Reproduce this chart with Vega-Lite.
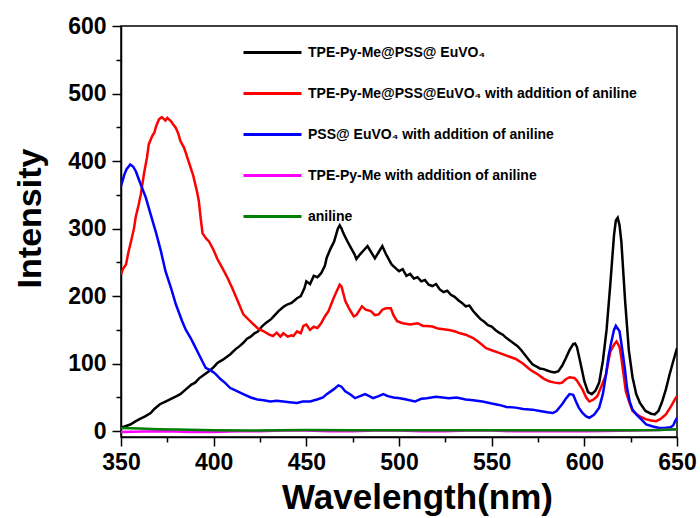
{
  "$schema": "https://vega.github.io/schema/vega-lite/v6.json",
  "width": 556,
  "height": 411,
  "autosize": {"type": "none"},
  "padding": {"left": 121, "top": 26, "right": 23, "bottom": 81},
  "background": "white",
  "config": {
    "view": {"stroke": "black", "strokeWidth": 1.5},
    "font": "Liberation Sans",
    "axis": {
      "labelFont": "Liberation Sans", "labelFontWeight": "bold", "labelFontSize": 23, "labelColor": "black",
      "titleFont": "Liberation Sans", "titleFontWeight": "bold", "titleColor": "black",
      "domainColor": "black", "domainWidth": 1.5, "tickColor": "black", "tickWidth": 1.5, "tickSize": 9,
      "grid": false
    },
    "legend": {
      "labelFont": "Liberation Sans", "labelFontWeight": "bold", "labelFontSize": 14, "labelColor": "black"
    }
  },
  "datasets": {
    "spectra": [
      {"k":"A","x":350,"y":6},{"k":"A","x":352,"y":7},{"k":"A","x":355,"y":10},{"k":"A","x":358,"y":15},{"k":"A","x":360,"y":18},{"k":"A","x":363,"y":22},{"k":"A","x":366,"y":27},{"k":"A","x":368,"y":33},{"k":"A","x":371,"y":40},{"k":"A","x":374,"y":44},{"k":"A","x":377,"y":48},{"k":"A","x":380,"y":52},{"k":"A","x":382,"y":55},{"k":"A","x":385,"y":62},{"k":"A","x":388,"y":69},{"k":"A","x":390,"y":72},{"k":"A","x":392,"y":78},{"k":"A","x":395,"y":84},{"k":"A","x":398,"y":90},{"k":"A","x":400,"y":95},{"k":"A","x":402,"y":101},{"k":"A","x":405,"y":106},{"k":"A","x":407,"y":110},{"k":"A","x":409,"y":114},{"k":"A","x":412,"y":122},{"k":"A","x":414,"y":126},{"k":"A","x":416,"y":131},{"k":"A","x":418,"y":137},{"k":"A","x":420,"y":140},{"k":"A","x":422,"y":145},{"k":"A","x":424,"y":148},{"k":"A","x":426,"y":155},{"k":"A","x":428,"y":160},{"k":"A","x":431,"y":166},{"k":"A","x":433,"y":172},{"k":"A","x":435,"y":178},{"k":"A","x":438,"y":185},{"k":"A","x":440,"y":188},{"k":"A","x":442,"y":190},{"k":"A","x":445,"y":197},{"k":"A","x":447,"y":200},{"k":"A","x":449,"y":212},{"k":"A","x":450,"y":222},{"k":"A","x":452,"y":218},{"k":"A","x":454,"y":230},{"k":"A","x":456,"y":228},{"k":"A","x":458,"y":234},{"k":"A","x":460,"y":245},{"k":"A","x":461,"y":257},{"k":"A","x":463,"y":270},{"k":"A","x":465,"y":281},{"k":"A","x":467,"y":300},{"k":"A","x":468,"y":305},{"k":"A","x":469,"y":300},{"k":"A","x":470,"y":293},{"k":"A","x":472,"y":282},{"k":"A","x":474,"y":272},{"k":"A","x":476,"y":262},{"k":"A","x":477,"y":255},{"k":"A","x":479,"y":262},{"k":"A","x":481,"y":268},{"k":"A","x":483,"y":274},{"k":"A","x":485,"y":265},{"k":"A","x":487,"y":256},{"k":"A","x":489,"y":265},{"k":"A","x":491,"y":274},{"k":"A","x":493,"y":262},{"k":"A","x":496,"y":247},{"k":"A","x":498,"y":242},{"k":"A","x":500,"y":237},{"k":"A","x":502,"y":240},{"k":"A","x":504,"y":230},{"k":"A","x":506,"y":233},{"k":"A","x":508,"y":226},{"k":"A","x":510,"y":228},{"k":"A","x":512,"y":222},{"k":"A","x":514,"y":224},{"k":"A","x":516,"y":217},{"k":"A","x":518,"y":215},{"k":"A","x":520,"y":218},{"k":"A","x":522,"y":210},{"k":"A","x":524,"y":206},{"k":"A","x":526,"y":208},{"k":"A","x":528,"y":202},{"k":"A","x":530,"y":199},{"k":"A","x":532,"y":194},{"k":"A","x":534,"y":190},{"k":"A","x":536,"y":185},{"k":"A","x":538,"y":186},{"k":"A","x":540,"y":178},{"k":"A","x":542,"y":172},{"k":"A","x":544,"y":166},{"k":"A","x":546,"y":162},{"k":"A","x":548,"y":157},{"k":"A","x":550,"y":155},{"k":"A","x":552,"y":150},{"k":"A","x":554,"y":146},{"k":"A","x":556,"y":143},{"k":"A","x":558,"y":138},{"k":"A","x":560,"y":134},{"k":"A","x":562,"y":130},{"k":"A","x":564,"y":126},{"k":"A","x":566,"y":120},{"k":"A","x":568,"y":113},{"k":"A","x":570,"y":106},{"k":"A","x":572,"y":99},{"k":"A","x":574,"y":96},{"k":"A","x":576,"y":93},{"k":"A","x":578,"y":92},{"k":"A","x":580,"y":90},{"k":"A","x":582,"y":88},{"k":"A","x":584,"y":87},{"k":"A","x":586,"y":89},{"k":"A","x":588,"y":97},{"k":"A","x":590,"y":108},{"k":"A","x":592,"y":120},{"k":"A","x":594,"y":129},{"k":"A","x":595,"y":130},{"k":"A","x":596,"y":125},{"k":"A","x":598,"y":100},{"k":"A","x":600,"y":74},{"k":"A","x":602,"y":58},{"k":"A","x":604,"y":55},{"k":"A","x":606,"y":60},{"k":"A","x":608,"y":72},{"k":"A","x":610,"y":104},{"k":"A","x":612,"y":150},{"k":"A","x":614,"y":217},{"k":"A","x":616,"y":290},{"k":"A","x":617,"y":312},{"k":"A","x":618,"y":316},{"k":"A","x":619,"y":305},{"k":"A","x":620,"y":280},{"k":"A","x":622,"y":193},{"k":"A","x":624,"y":120},{"k":"A","x":626,"y":80},{"k":"A","x":628,"y":55},{"k":"A","x":630,"y":42},{"k":"A","x":633,"y":30},{"k":"A","x":636,"y":26},{"k":"A","x":638,"y":25},{"k":"A","x":640,"y":30},{"k":"A","x":642,"y":44},{"k":"A","x":644,"y":62},{"k":"A","x":646,"y":84},{"k":"A","x":648,"y":104},{"k":"A","x":650,"y":123},

      {"k":"B","x":350,"y":232},{"k":"B","x":351,"y":240},{"k":"B","x":352.7,"y":247},{"k":"B","x":354,"y":265},{"k":"B","x":355.4,"y":281},{"k":"B","x":357,"y":300},{"k":"B","x":358,"y":318},{"k":"B","x":359.5,"y":335},{"k":"B","x":360.7,"y":351},{"k":"B","x":362.5,"y":383},{"k":"B","x":364,"y":405},{"k":"B","x":365,"y":425},{"k":"B","x":367,"y":438},{"k":"B","x":368,"y":442},{"k":"B","x":369,"y":452},{"k":"B","x":370.5,"y":462},{"k":"B","x":372,"y":465},{"k":"B","x":374,"y":460},{"k":"B","x":375,"y":464},{"k":"B","x":377,"y":459},{"k":"B","x":378,"y":455},{"k":"B","x":379.6,"y":449},{"k":"B","x":381,"y":440},{"k":"B","x":382,"y":430},{"k":"B","x":384,"y":420},{"k":"B","x":385,"y":412},{"k":"B","x":387,"y":395},{"k":"B","x":389,"y":378},{"k":"B","x":391,"y":355},{"k":"B","x":392,"y":341},{"k":"B","x":393,"y":315},{"k":"B","x":394,"y":293},{"k":"B","x":396,"y":285},{"k":"B","x":397.5,"y":281},{"k":"B","x":400,"y":268},{"k":"B","x":402,"y":255},{"k":"B","x":405,"y":240},{"k":"B","x":407.5,"y":227},{"k":"B","x":410,"y":212},{"k":"B","x":413,"y":193},{"k":"B","x":416,"y":173},{"k":"B","x":419,"y":165},{"k":"B","x":421.6,"y":158},{"k":"B","x":424,"y":152},{"k":"B","x":427,"y":148},{"k":"B","x":430,"y":143},{"k":"B","x":432,"y":141},{"k":"B","x":434,"y":146},{"k":"B","x":436,"y":140},{"k":"B","x":437.6,"y":145},{"k":"B","x":440,"y":140},{"k":"B","x":442,"y":142},{"k":"B","x":443,"y":141},{"k":"B","x":445,"y":148},{"k":"B","x":447,"y":145},{"k":"B","x":448.4,"y":156},{"k":"B","x":450,"y":158},{"k":"B","x":452,"y":150},{"k":"B","x":454,"y":155},{"k":"B","x":456,"y":153},{"k":"B","x":458,"y":160},{"k":"B","x":460,"y":170},{"k":"B","x":462,"y":178},{"k":"B","x":464.7,"y":197},{"k":"B","x":466,"y":205},{"k":"B","x":468,"y":217},{"k":"B","x":469,"y":214},{"k":"B","x":471,"y":193},{"k":"B","x":473,"y":182},{"k":"B","x":475.6,"y":170},{"k":"B","x":477,"y":172},{"k":"B","x":480,"y":185},{"k":"B","x":482,"y":180},{"k":"B","x":484.8,"y":178},{"k":"B","x":487,"y":172},{"k":"B","x":489,"y":173},{"k":"B","x":491,"y":180},{"k":"B","x":493,"y":182},{"k":"B","x":495.6,"y":182},{"k":"B","x":497,"y":172},{"k":"B","x":499,"y":163},{"k":"B","x":502,"y":160},{"k":"B","x":506,"y":158},{"k":"B","x":510,"y":160},{"k":"B","x":513,"y":156},{"k":"B","x":515,"y":156},{"k":"B","x":518,"y":155},{"k":"B","x":521,"y":152},{"k":"B","x":524,"y":151},{"k":"B","x":527,"y":150},{"k":"B","x":530,"y":148},{"k":"B","x":533,"y":145},{"k":"B","x":536,"y":143},{"k":"B","x":540,"y":138},{"k":"B","x":543,"y":132},{"k":"B","x":547,"y":123},{"k":"B","x":550,"y":120},{"k":"B","x":554,"y":116},{"k":"B","x":558,"y":112},{"k":"B","x":563,"y":107},{"k":"B","x":567,"y":100},{"k":"B","x":570,"y":93},{"k":"B","x":572,"y":89},{"k":"B","x":575,"y":84},{"k":"B","x":578,"y":78},{"k":"B","x":581,"y":74},{"k":"B","x":584,"y":72},{"k":"B","x":586.6,"y":71},{"k":"B","x":588,"y":72},{"k":"B","x":590,"y":77},{"k":"B","x":592,"y":80},{"k":"B","x":594.6,"y":79},{"k":"B","x":596,"y":75},{"k":"B","x":599,"y":62},{"k":"B","x":601,"y":50},{"k":"B","x":602.7,"y":44},{"k":"B","x":605,"y":47},{"k":"B","x":607,"y":52},{"k":"B","x":609,"y":65},{"k":"B","x":611.7,"y":84},{"k":"B","x":614,"y":118},{"k":"B","x":616,"y":128},{"k":"B","x":617.4,"y":133},{"k":"B","x":619,"y":125},{"k":"B","x":620,"y":108},{"k":"B","x":622.4,"y":59},{"k":"B","x":624,"y":45},{"k":"B","x":626,"y":30},{"k":"B","x":630,"y":22},{"k":"B","x":633,"y":18},{"k":"B","x":636,"y":16},{"k":"B","x":638.7,"y":15},{"k":"B","x":641,"y":18},{"k":"B","x":644,"y":25},{"k":"B","x":647,"y":38},{"k":"B","x":649,"y":48},{"k":"B","x":650,"y":52},

      {"k":"C","x":350,"y":363},{"k":"C","x":351.8,"y":380},{"k":"C","x":353,"y":388},{"k":"C","x":355,"y":395},{"k":"C","x":356.5,"y":392},{"k":"C","x":358,"y":385},{"k":"C","x":360.7,"y":365},{"k":"C","x":363.4,"y":346},{"k":"C","x":366,"y":321},{"k":"C","x":369,"y":293},{"k":"C","x":371.5,"y":267},{"k":"C","x":374,"y":237},{"k":"C","x":377,"y":212},{"k":"C","x":379.6,"y":188},{"k":"C","x":383,"y":163},{"k":"C","x":385,"y":150},{"k":"C","x":387.6,"y":138},{"k":"C","x":390,"y":125},{"k":"C","x":392,"y":114},{"k":"C","x":394,"y":103},{"k":"C","x":395.7,"y":94},{"k":"C","x":397,"y":92},{"k":"C","x":399,"y":89},{"k":"C","x":401,"y":85},{"k":"C","x":403.8,"y":77},{"k":"C","x":406,"y":72},{"k":"C","x":409,"y":64},{"k":"C","x":412,"y":60},{"k":"C","x":416,"y":55},{"k":"C","x":420,"y":50},{"k":"C","x":423.6,"y":47},{"k":"C","x":427,"y":46},{"k":"C","x":430.6,"y":44},{"k":"C","x":434,"y":45},{"k":"C","x":437.6,"y":44},{"k":"C","x":441,"y":43},{"k":"C","x":445,"y":42},{"k":"C","x":448,"y":44},{"k":"C","x":452,"y":44},{"k":"C","x":455.8,"y":47},{"k":"C","x":459,"y":50},{"k":"C","x":461,"y":55},{"k":"C","x":464.7,"y":62},{"k":"C","x":467.3,"y":68},{"k":"C","x":469,"y":66},{"k":"C","x":471,"y":59},{"k":"C","x":474,"y":54},{"k":"C","x":476.3,"y":49},{"k":"C","x":479,"y":52},{"k":"C","x":481.7,"y":55},{"k":"C","x":484,"y":52},{"k":"C","x":486,"y":49},{"k":"C","x":489,"y":52},{"k":"C","x":491.5,"y":55},{"k":"C","x":494,"y":52},{"k":"C","x":497,"y":50},{"k":"C","x":500.5,"y":49},{"k":"C","x":504,"y":47},{"k":"C","x":508.6,"y":44},{"k":"C","x":512,"y":48},{"k":"C","x":515,"y":49},{"k":"C","x":520,"y":51},{"k":"C","x":527,"y":49},{"k":"C","x":531,"y":50},{"k":"C","x":536,"y":47},{"k":"C","x":540,"y":46},{"k":"C","x":545,"y":44},{"k":"C","x":550,"y":41},{"k":"C","x":554,"y":39},{"k":"C","x":558,"y":36},{"k":"C","x":563,"y":35},{"k":"C","x":567,"y":33},{"k":"C","x":572,"y":32},{"k":"C","x":576,"y":30},{"k":"C","x":580,"y":28},{"k":"C","x":583,"y":27},{"k":"C","x":585,"y":30},{"k":"C","x":588,"y":40},{"k":"C","x":590,"y":48},{"k":"C","x":592,"y":55},{"k":"C","x":594,"y":54},{"k":"C","x":595.5,"y":44},{"k":"C","x":597,"y":35},{"k":"C","x":599,"y":27},{"k":"C","x":601,"y":22},{"k":"C","x":602.7,"y":20},{"k":"C","x":605,"y":24},{"k":"C","x":606,"y":27},{"k":"C","x":608,"y":35},{"k":"C","x":610,"y":55},{"k":"C","x":611.7,"y":84},{"k":"C","x":613,"y":110},{"k":"C","x":614.3,"y":129},{"k":"C","x":616,"y":150},{"k":"C","x":617,"y":156},{"k":"C","x":619,"y":148},{"k":"C","x":620,"y":130},{"k":"C","x":621.8,"y":94},{"k":"C","x":623,"y":65},{"k":"C","x":624.5,"y":44},{"k":"C","x":626,"y":32},{"k":"C","x":628,"y":25},{"k":"C","x":631,"y":17},{"k":"C","x":633.4,"y":10},{"k":"C","x":637,"y":7},{"k":"C","x":640.3,"y":5},{"k":"C","x":643,"y":5},{"k":"C","x":646.6,"y":6},{"k":"C","x":648,"y":9},{"k":"C","x":649,"y":15},{"k":"C","x":650,"y":20},

      {"k":"D","x":350,"y":-1},{"k":"D","x":362,"y":-0.5},{"k":"D","x":375,"y":0},{"k":"D","x":387,"y":-1},{"k":"D","x":400,"y":-1},{"k":"D","x":412,"y":0},{"k":"D","x":425,"y":0},{"k":"D","x":437,"y":1},{"k":"D","x":450,"y":1},{"k":"D","x":462,"y":0},{"k":"D","x":475,"y":0},{"k":"D","x":487,"y":1},{"k":"D","x":500,"y":1},{"k":"D","x":512,"y":0},{"k":"D","x":525,"y":0},{"k":"D","x":537,"y":1},{"k":"D","x":550,"y":1},{"k":"D","x":562,"y":0},{"k":"D","x":575,"y":0},{"k":"D","x":587,"y":0},{"k":"D","x":600,"y":0},{"k":"D","x":612,"y":0.5},{"k":"D","x":625,"y":1},{"k":"D","x":640,"y":2},{"k":"D","x":650,"y":3},

      {"k":"E","x":350,"y":5},{"k":"E","x":360,"y":4},{"k":"E","x":370,"y":3},{"k":"E","x":380,"y":2.5},{"k":"E","x":400,"y":1.5},{"k":"E","x":420,"y":1},{"k":"E","x":450,"y":2},{"k":"E","x":475,"y":1.5},{"k":"E","x":500,"y":1.5},{"k":"E","x":525,"y":1.5},{"k":"E","x":550,"y":1.5},{"k":"E","x":575,"y":1.5},{"k":"E","x":600,"y":1.5},{"k":"E","x":625,"y":1.5},{"k":"E","x":640,"y":2},{"k":"E","x":650,"y":3}
    ]
  },
  "data": {"name": "spectra"},
  "resolve": {"axis": {"x": "independent", "y": "independent"}},
  "layer": [
    {
      "mark": {"type": "line", "strokeWidth": 2.5, "clip": true},
      "encoding": {
        "x": {"field": "x", "type": "quantitative",
              "scale": {"domain": [350, 650], "nice": false, "zero": false},
              "axis": {"values": [350, 400, 450, 500, 550, 600, 650], "title": "Wavelength(nm)", "titleFontSize": 35, "titlePadding": 6, "titleX": 296, "labelPadding": 5, "labelFlush": false}},
        "y": {"field": "y", "type": "quantitative",
              "scale": {"domain": [-8.5, 600], "nice": false, "zero": false},
              "axis": {"values": [0, 100, 200, 300, 400, 500, 600], "title": "Intensity", "titleFontSize": 34, "titlePadding": 20, "titleY": 192, "labelPadding": 6, "labelFlush": false}},
        "color": {"field": "k", "type": "nominal",
                  "scale": {"domain": ["A", "B", "C", "D", "E"], "range": ["#000000", "#ff0000", "#0000ff", "#ff00ff", "#008000"]},
                  "legend": {"title": null, "orient": "none", "legendX": 121, "legendY": -4, "direction": "vertical",
                             "symbolType": "stroke", "symbolSize": 3364, "symbolStrokeWidth": 3, "labelOffset": 5, "rowPadding": 3, "padding": 0,
                             "labelLimit": 400,
                             "labelExpr": "{'A':'TPE-Py-Me@PSS@ EuVO₄','B':'TPE-Py-Me@PSS@EuVO₄ with addition of aniline','C':'PSS@ EuVO₄ with addition of aniline','D':'TPE-Py-Me with addition of aniline','E':'aniline'}[datum.label]"}}
      }
    },
    {
      "mark": {"type": "line", "strokeOpacity": 0, "clip": true},
      "encoding": {
        "x": {"field": "x", "type": "quantitative",
              "axis": {"orient": "bottom", "values": [375, 425, 475, 525, 575, 625], "labels": false, "domain": false, "title": null, "tickSize": 5}},
        "y": {"field": "y", "type": "quantitative",
              "axis": {"orient": "left", "values": [50, 150, 250, 350, 450, 550], "labels": false, "domain": false, "title": null, "tickSize": 5}},
        "detail": {"field": "k", "type": "nominal"}
      }
    }
  ]
}
